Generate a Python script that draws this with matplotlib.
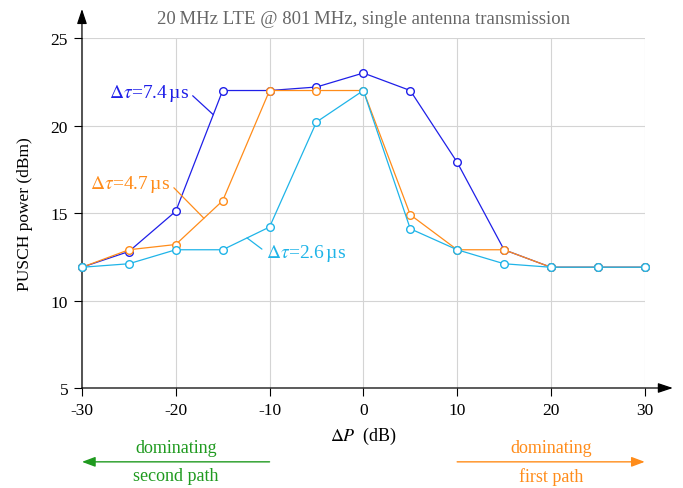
import numpy as np
import matplotlib
matplotlib.use('Agg')
import matplotlib.pyplot as plt

# power offset between the two paths (dB)
delta_p = [-30, -25, -20, -15, -10, -5, 0, 5, 10, 15, 20, 25, 30]

# PUSCH power (dBm) for each path delay
pusch_74 = [11.9, 12.8, 15.1, 22.0, 22.0, 22.2, 23.0, 22.0, 17.9, 12.9, 11.9, 11.9, 11.9]
pusch_47 = [11.9, 12.9, 13.2, 15.7, 22.0, 22.0, 22.0, 14.9, 12.9, 12.9, 11.9, 11.9, 11.9]
pusch_26 = [11.9, 12.1, 12.9, 12.9, 14.2, 20.2, 22.0, 14.1, 12.9, 12.1, 11.9, 11.9, 11.9]

xticks = [-30, -20, -10, 0, 10, 20, 30]
yticks = [5, 10, 15, 20, 25]

c_blue = '#1f1fe8'
c_orange = '#ff8c1a'
c_cyan = '#1fb4e8'
c_green = '#1f9a1f'

plt.rcParams['font.family'] = ['Liberation Serif', 'DejaVu Serif']
plt.rcParams['mathtext.fontset'] = 'stix'

fig = plt.figure(figsize=(6.83, 4.89), dpi=100)
ax = fig.add_axes([0.120, 0.2045, 0.824, 0.7157])

mk = dict(marker='o', markersize=5.5, markerfacecolor='white', markeredgewidth=1.0,
          linewidth=0.9, clip_on=False)
ax.plot(delta_p, pusch_74, color=c_blue, markeredgecolor=c_blue, zorder=3, **mk)
ax.plot(delta_p, pusch_47, color=c_orange, markeredgecolor=c_orange, zorder=4, **mk)
ax.plot(delta_p, pusch_26, color=c_cyan, markeredgecolor=c_cyan, zorder=5, **mk)

ax.set_xlim(-30, 30)
ax.set_ylim(5, 25)
ax.set_xticks(xticks)
ax.set_yticks(yticks)
ax.set_xticklabels([str(t) for t in xticks])
ax.grid(True, color='#d4d4d4', linewidth=0.8)
ax.set_axisbelow(True)
ax.tick_params(direction='out', length=6, width=0.8, labelsize=12.5, pad=4)

for s in ax.spines.values():
    s.set_visible(False)

# axis lines with arrow heads
arr = dict(arrowstyle='-|>,head_length=0.9,head_width=0.3', color='black', lw=0.9,
           shrinkA=0, shrinkB=0)
ax.annotate('', xy=(1.05, 0), xytext=(0, 0), xycoords='axes fraction', arrowprops=arr)
ax.annotate('', xy=(0, 1.083), xytext=(0, 0), xycoords='axes fraction', arrowprops=arr)

ax.set_title('20\u2009MHz LTE @ 801\u2009MHz, single antenna transmission',
             color='#666666', fontsize=13.5, pad=11)
ax.set_ylabel('PUSCH power (dBm)', fontsize=12.5, labelpad=13)
ax.set_xlabel(r'$\Delta P$  (dB)', fontsize=13, labelpad=5)

# curve labels with pins
def pin_label(text, color, ys, x_pin, xt, yt, ha):
    y_pin = np.interp(x_pin, delta_p, ys)
    ax.annotate(text, xy=(x_pin, y_pin), xytext=(xt, yt), color=color, fontsize=14,
                ha=ha, va='center', zorder=6,
                arrowprops=dict(arrowstyle='-', color=color, lw=0.9,
                                relpos=(1, 0.5) if ha == 'right' else (0, 0.5),
                                shrinkA=1, shrinkB=0))

pin_label(r'$\Delta\tau$=7.4$\,$µs', c_blue, pusch_74, -16.0, -18.6, 21.9, 'right')
pin_label(r'$\Delta\tau$=4.7$\,$µs', c_orange, pusch_47, -17.0, -20.6, 16.66, 'right')
pin_label(r'$\Delta\tau$=2.6$\,$µs', c_cyan, pusch_26, -12.4, -10.4, 12.77, 'left')

# dominating path arrows below the x axis
tr = ax.get_xaxis_transform()
ax.annotate('', xy=(-30, -0.211), xytext=(-10, -0.211), xycoords=tr,
            arrowprops=dict(arrowstyle='-|>,head_length=0.8,head_width=0.3',
                            color=c_green, lw=1.0, shrinkA=0, shrinkB=0))
ax.text(-20, -0.169, 'dominating', transform=tr, color=c_green, fontsize=13,
        ha='center', va='center')
ax.text(-20, -0.251, 'second path', transform=tr, color=c_green, fontsize=13,
        ha='center', va='center')

ax.annotate('', xy=(30, -0.211), xytext=(10, -0.211), xycoords=tr,
            arrowprops=dict(arrowstyle='-|>,head_length=0.8,head_width=0.3',
                            color=c_orange, lw=1.0, shrinkA=0, shrinkB=0))
ax.text(20, -0.169, 'dominating', transform=tr, color=c_orange, fontsize=13,
        ha='center', va='center')
ax.text(20, -0.251, 'first path', transform=tr, color=c_orange, fontsize=13,
        ha='center', va='center')

fig.savefig('out.png', dpi=100)
